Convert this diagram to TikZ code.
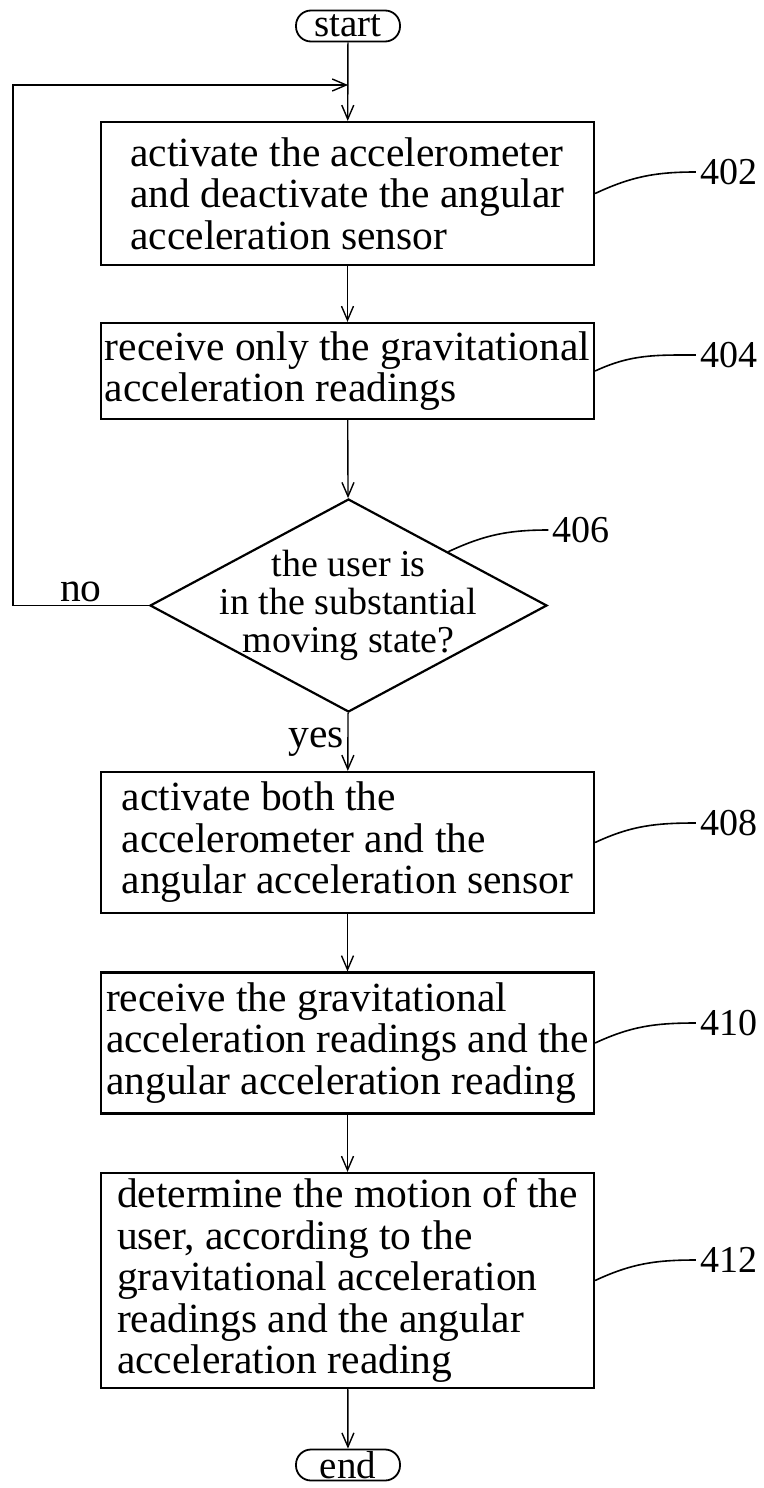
\documentclass[tikz,border=0pt]{standalone}
\usepackage{fontspec}
\setmainfont{Liberation Serif}
\usetikzlibrary{shapes.geometric,arrows.meta,positioning}

\begin{document}
\begin{tikzpicture}[x=1pt,y=-1pt,>={Straight Barb[length=14pt,width=12pt]},
    font=\fontsize{41.5}{41.5}\selectfont,
    box/.style={draw,line width=2.2pt,minimum width=493pt,inner sep=0pt,align=left},
    term/.style={draw,line width=1.8pt,rounded corners=15pt,minimum width=104pt,minimum height=31pt,inner sep=0pt,font=\fontsize{39}{39}\selectfont},
    ref/.style={inner sep=4pt,font=\fontsize{38}{38}\selectfont},
    lead/.style={line width=1.6pt}]
  \useasboundingbox (0,0) rectangle (763,1488);
  \node[term] (n_start) at (348,26) {start};
  \node[box,minimum height=143pt] (b_402) at (347.5,193.5) {activate the accelerometer\\and deactivate the angular\\acceleration sensor};
  \node[box,minimum height=96pt] (b_404) at (347.5,371) {receive only the gravitational\\acceleration readings};
  \node[draw,diamond,line width=2.2pt,aspect=1.86,minimum width=397pt,minimum height=213pt,inner sep=-30pt,
        align=center,font=\fontsize{38}{38}\selectfont] (d_406) at (348.5,605.5) {the user is\\in the substantial\\moving state?};
  \node[box,minimum height=141pt] (b_408) at (347.5,842.5) {activate both the\\accelerometer and the\\angular acceleration sensor};
  \node[box,minimum height=141pt] (b_410) at (347.5,1043) {receive the gravitational\\acceleration readings and the\\angular acceleration reading};
  \node[box,minimum height=215pt] (b_412) at (347.5,1280.5) {determine the motion of the\\user, according to the\\gravitational acceleration\\readings and the angular\\acceleration reading};
  \node[term] (n_end) at (348,1465) {end};
  \coordinate (c_loop) at (13,605.5);
  \coordinate (c_join) at (348,85);
  % reference numerals
  \node[ref] (l_402) at (728.5,172) {402};
  \node[ref] (l_404) at (728.5,355) {404};
  \node[ref] (l_406) at (581,530) {406};
  \node[ref] (l_408) at (728.5,823) {408};
  \node[ref] (l_410) at (728.5,1023) {410};
  \node[ref] (l_412) at (728.5,1260) {412};
  \path[->,line width=1.4pt]
    (n_start) edge (b_402)
    (b_402)   edge (b_404)
    (b_404)   edge (d_406)
    (d_406)   edge node[left] {yes} (b_408)
    (b_408)   edge (b_410)
    (b_410)   edge (b_412)
    (b_412)   edge (n_end);
  \draw[->,line width=1.4pt] (d_406.west) -- node[above] {no} (c_loop) |- (c_join);
  \draw[lead] (b_402.east) to[out=25,in=180] (l_402.west);
  \draw[lead] (b_404.east) to[out=25,in=180] (l_404.west);
  \draw[lead] (d_406.north east) to[out=25,in=180] (l_406.west);
  \draw[lead] (b_408.east) to[out=25,in=180] (l_408.west);
  \draw[lead] (b_410.east) to[out=25,in=180] (l_410.west);
  \draw[lead] (b_412.east) to[out=25,in=180] (l_412.west);
\end{tikzpicture}
\end{document}
